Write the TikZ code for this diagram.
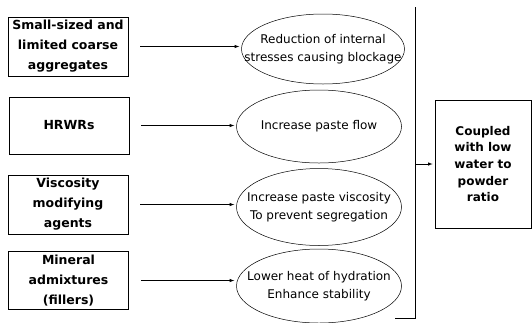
\documentclass[tikz,border=0pt]{standalone}
\usepackage{fontspec}
\setmainfont{DejaVu Sans}
\usetikzlibrary{arrows,positioning,shapes.geometric,calc}

\begin{document}
\begin{tikzpicture}[x=1pt,y=-1pt,->,>=latex,shorten >=2pt,
  line width=0.6pt,
  cause/.style={rectangle,draw,line width=0.8pt,minimum width=120pt,
                font=\bfseries\fontsize{12.5}{20}\selectfont,align=center},
  effect/.style={ellipse,draw,line width=0.5pt,inner sep=0pt,
                 minimum width=165pt,minimum height=73pt},
  effect text/.style={align=center,font=\fontsize{12}{18}\selectfont},
  outcome/.style={rectangle,draw,line width=0.8pt,minimum width=96pt,minimum height=128pt,
                  font=\bfseries\fontsize{12}{16.7}\selectfont,align=center}]
  \useasboundingbox (0,0) rectangle (532,322);

    \node[cause,minimum height=57pt] (AGG) at (68,46.5) {Small-sized and\\limited coarse\\aggregates};
    \node[cause,minimum height=57pt] (HRWR) at (69,125.5) {HRWRs};
    \node[cause,minimum height=59pt] (VMA) at (68,204.5) {Viscosity\\modifying\\agents};
    \node[cause,minimum height=51pt] (FILL) at (68.5,280.5) {Mineral\\admixtures\\(fillers)};

    \node[effect,minimum width=163pt,minimum height=70pt] (BLOCK) at (323,49)
      [label={[effect text]center:{Reduction of internal\\stresses causing blockage}}] {};
    \node[effect] (FLOW) at (319,126.5)
      [label={[effect text]center:{Increase paste flow}}] {};
    \node[effect,minimum height=77pt] (VISC) at (319,207)
      [label={[effect text]center:{Increase paste viscosity\\To prevent segregation}}] {};
    \node[effect,minimum height=74pt] (HEAT) at (319,286)
      [label={[effect text]center:{Lower heat of hydration\\Enhance stability}}] {};

    \node[outcome] (RATIO) at (483,164) {Coupled\\with low\\water to\\powder\\ratio};

    %\node (Label1) [below=of HEAT] {};
    \coordinate (TOP) at (415,7);
    \coordinate (BOT) at (415,318);
    \coordinate (FOOT) at (395,318);

    \path [shorten <=12pt]
      (AGG) edge (AGG -| BLOCK.west)
      (HRWR) edge (HRWR -| FLOW.west)
      (VMA) edge (VMA -| VISC.west)
      (FILL) edge (FILL -| HEAT.west);
    \draw [-,shorten >=0pt] (TOP) -- (BOT) -- (FOOT);
    \draw (TOP |- RATIO.west) -- (RATIO.west);

  \end{tikzpicture}
\end{document}
